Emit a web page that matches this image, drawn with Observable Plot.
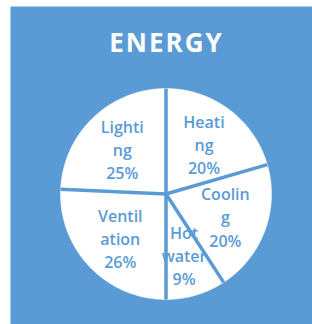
<!DOCTYPE html>
<html>
<head>
<meta charset="utf-8">
<script src="https://cdn.jsdelivr.net/npm/d3@7"></script>
<script src="https://cdn.jsdelivr.net/npm/@observablehq/plot@0.6"></script>
<style>
  html, body { margin: 0; padding: 0; background: #ffffff; }
</style>
</head>
<body>
<div id="chart"></div>
<script>
const title = "ENERGY";
const categories = ["Heating", "Cooling", "Hot water", "Ventilation", "Lighting"];
const shares = [20.5, 20.3, 9.2, 25.7, 24.3];
const nameLines = [["Heati", "ng"], ["Coolin", "g"], ["Hot", "water"], ["Ventil", "ation"], ["Lighti", "ng"]];
const percentLabels = ["20%", "20%", "9%", "26%", "25%"];

const blue = "#5b9bd5";
const font = "'Open Sans', 'Noto Sans', sans-serif";

const total = d3.sum(shares);
let cum = 0;
const slices = categories.map((c, i) => {
  const a0 = cum / total * 2 * Math.PI;
  cum += shares[i];
  const a1 = cum / total * 2 * Math.PI;
  return {c, i, a0, a1, mid: (a0 + a1) / 2};
});

const slicePts = slices.flatMap(s => {
  const n = Math.max(2, Math.ceil((s.a1 - s.a0) / 0.01));
  const pts = [{c: s.c, x: 0, y: 0}];
  for (let k = 0; k <= n; k++) {
    const a = s.a0 + (s.a1 - s.a0) * k / n;
    pts.push({c: s.c, x: Math.sin(a), y: Math.cos(a)});
  }
  pts.push({c: s.c, x: 0, y: 0});
  return pts;
});

const labelR = 0.6;
const labels = slices.map(s => ({
  x: labelR * Math.sin(s.mid),
  y: labelR * Math.cos(s.mid),
  text: nameLines[s.i].join("\n") + "\n" + percentLabels[s.i]
}));

const seps = slices.map(s => ({x1: 0, y1: 0, x2: Math.sin(s.a0), y2: Math.cos(s.a0)}));

const chart = Plot.plot({
  width: 312,
  height: 324,
  marginLeft: 10,
  marginTop: 6,
  marginRight: 0,
  marginBottom: 0,
  style: {background: "#ffffff"},
  x: {domain: [-1, 1], range: [60, 271], axis: null},
  y: {domain: [-1, 1], range: [299, 88], axis: null},
  marks: [
    Plot.frame({fill: blue, stroke: "none"}),
    Plot.line(slicePts, {x: "x", y: "y", z: "c", fill: "white", stroke: "white", strokeWidth: 0.5, curve: "linear"}),
    Plot.text(labels, {x: "x", y: "y", text: "text", fill: blue, fontSize: 16, fontWeight: 600, fontFamily: font, lineHeight: 1.45, lineAnchor: "middle", textAnchor: "middle"}),
    Plot.link(seps, {x1: "x1", y1: "y1", x2: "x2", y2: "y2", stroke: blue, strokeWidth: 3.5, strokeLinecap: "butt"}),
    Plot.text([title], {frameAnchor: "top", dy: 37, dx: 5, lineAnchor: "middle", fill: "white", fontSize: 26, fontWeight: 700, fontFamily: font})
  ]
});
chart.querySelectorAll("text").forEach(t => {
  if (t.textContent === title) t.style.letterSpacing = "2px";
});
document.getElementById("chart").appendChild(chart);
</script>
</body>
</html>
